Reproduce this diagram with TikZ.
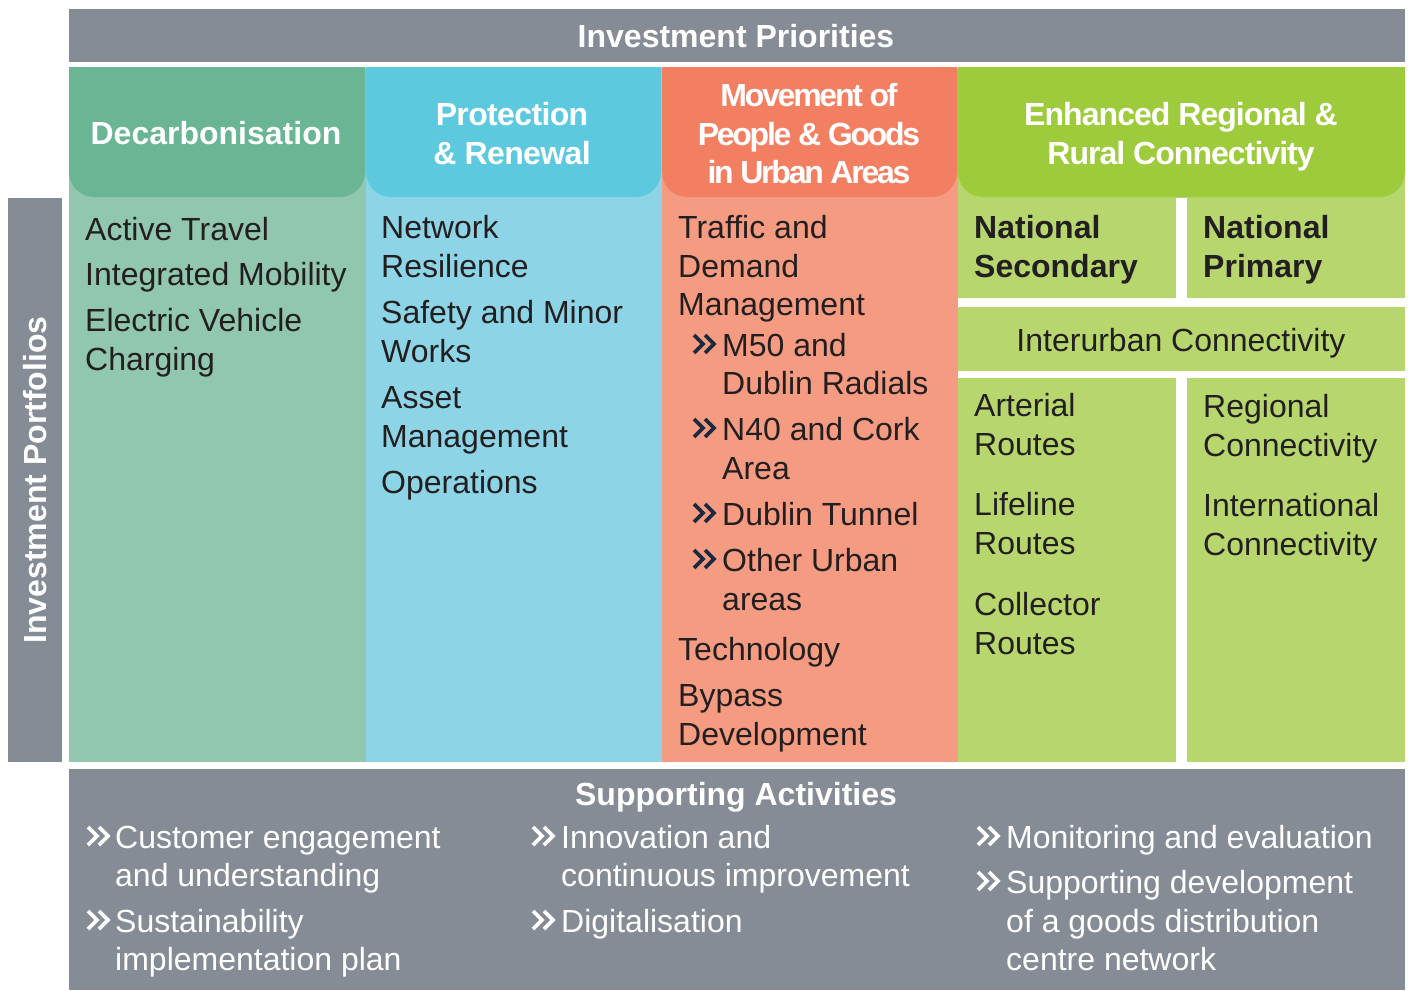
\documentclass[tikz,border=0pt]{standalone}
\usepackage{fontspec}
\setmainfont{Liberation Sans}
\usetikzlibrary{positioning}
\definecolor{gry}{HTML}{868C96}
\definecolor{dcH}{HTML}{69B594}
\definecolor{dcB}{HTML}{91C7AE}
\definecolor{prH}{HTML}{5DC9DE}
\definecolor{prB}{HTML}{8DD4E6}
\definecolor{mvH}{HTML}{F37F62}
\definecolor{mvB}{HTML}{F59B81}
\definecolor{rcH}{HTML}{9ECB3C}
\definecolor{rcB}{HTML}{B7D76E}
\definecolor{ink}{HTML}{231F20}
\definecolor{navy}{HTML}{1B2A3E}

\begin{document}
\begin{tikzpicture}[x=1pt, y=-1pt,
    itm/.style={anchor=base west, inner sep=0pt, font=\fontsize{32}{39}\selectfont, text=ink},
    wit/.style={itm, text=white},
    nat/.style={itm, font=\bfseries\fontsize{32}{39}\selectfont},
    hdr/.style={inner sep=0pt, align=center, text=white, font=\bfseries\fontsize{32}{39}\selectfont},
    chevs/.pic={\draw[line width=3.8pt, miter limit=3] (1,-21) -- (10,-12) -- (1,-3) (12,-21) -- (21,-12) -- (12,-3);}
  ]
  \useasboundingbox (0,0) rectangle (1410,990);
  \fill[white] (0,0) rectangle (1410,990);

  % frame bars
  \fill[gry] (69,9) rectangle (1405,62);
  \fill[gry] (8,198) rectangle (62,762);
  \fill[gry] (69,769) rectangle (1405,990);

  % column bodies
  \fill[dcB] (69,68) rectangle (366,762);
  \fill[prB] (366,68) rectangle (662,762);
  \fill[mvB] (662,68) rectangle (958,762);
  \fill[rcB] (958,68) rectangle (1405,762);

  % column headers, rounded at the bottom only
  \begin{scope}
    \clip (0,68) rectangle (1410,198);
    \fill[dcH, rounded corners=25pt] (69,30) rectangle (365,197);
    \fill[prH, rounded corners=25pt] (366,30) rectangle (661,197);
    \fill[mvH, rounded corners=25pt] (662,30) rectangle (957,197);
    \fill[rcH, rounded corners=25pt] (958,30) rectangle (1405,197);
  \end{scope}

  % white gaps in the regional column
  \fill[white] (1176,198) rectangle (1187,298);
  \fill[white] (958,298) rectangle (1405,307);
  \fill[white] (958,371) rectangle (1405,378);
  \fill[white] (1176,378) rectangle (1187,762);

  % titles
  \node[hdr] (prio) at (736,36) {Investment Priorities};
  \node[hdr, rotate=90] (port) at (35,480) {Investment Portfolios};
  \node[hdr] (supp) at (736,797) {Supporting Activities};
  \node[hdr] (decarb) at (216,133) {Decarbonisation};
  \node[hdr, font=\bfseries\fontsize{32}{39}\selectfont\addfontfeatures{LetterSpace=-2}] (protect) at (512,134) {Protection\\ \& Renewal};
  \node[hdr, font=\bfseries\fontsize{32}{38.5}\selectfont\addfontfeatures{LetterSpace=-7}] (move) at (809,134) {Movement of\\ People \& Goods\\ in Urban Areas};
  \node[hdr, font=\bfseries\fontsize{32}{39}\selectfont\addfontfeatures{LetterSpace=-3}] (region) at (1181,137) {Enhanced Regional \&\\ Rural Connectivity};

  % decarbonisation
  \foreach \y/\t in {240/Active Travel, 285/Integrated Mobility, 331/Electric Vehicle, 370/Charging}
    \node[itm] (dc\y) at (85,\y) {\t};

  % protection and renewal
  \foreach \y/\t in {238/Network, 277/Resilience, 323/Safety and Minor, 362/Works,
                     408/Asset, 447/Management, 493/Operations}
    \node[itm] (pr\y) at (381,\y) {\t};

  % movement of people and goods
  \foreach \y/\t in {238/Traffic and, 277/Demand, 315/Management, 660/Technology,
                     706/Bypass, 745/Development}
    \node[itm] (mv\y) at (678,\y) {\t};
  \foreach \y/\t in {356/M50 and, 394/Dublin Radials, 440/N40 and Cork, 479/Area,
                     525/Dublin Tunnel, 571/Other Urban, 610/areas}
    \node[itm] (mv\y) at (722,\y) {\t};
  \foreach \y in {356,440,525,571}
    \pic[navy] at (693,\y) {chevs};

  % regional and rural connectivity
  \node[nat] (natsec) at (974,238) {National};
  \node[nat] (natsec2) at (974,277) {Secondary};
  \node[nat] (natpri) at (1203,238) {National};
  \node[nat] (natpri2) at (1203,277) {Primary};
  \node[itm, anchor=base] (inter) at (1181,351) {Interurban Connectivity};
  \foreach \y/\t in {416/Arterial, 455/Routes, 515/Lifeline, 554/Routes, 615/Collector, 654/Routes}
    \node[itm] (sc\y) at (974,\y) {\t};
  \foreach \y/\t in {417/Regional, 456/Connectivity, 516/International, 555/Connectivity}
    \node[itm] (np\y) at (1203,\y) {\t};

  % supporting activities
  \foreach \y/\t in {848/Customer engagement, 886/and understanding, 932/Sustainability, 970/implementation plan}
    \node[wit] (sa\y) at (115,\y) {\t};
  \foreach \y/\t in {848/Innovation and, 886/continuous improvement, 932/Digitalisation}
    \node[wit] (sb\y) at (561,\y) {\t};
  \foreach \y/\t in {848/Monitoring and evaluation, 893/Supporting development,
                     932/of a goods distribution, 970/centre network}
    \node[wit] (sc\y) at (1006,\y) {\t};
  \foreach \x/\y in {87/848, 87/932, 532/848, 532/932, 977/848, 977/893}
    \pic[white] at (\x,\y) {chevs};
\end{tikzpicture}
\end{document}
